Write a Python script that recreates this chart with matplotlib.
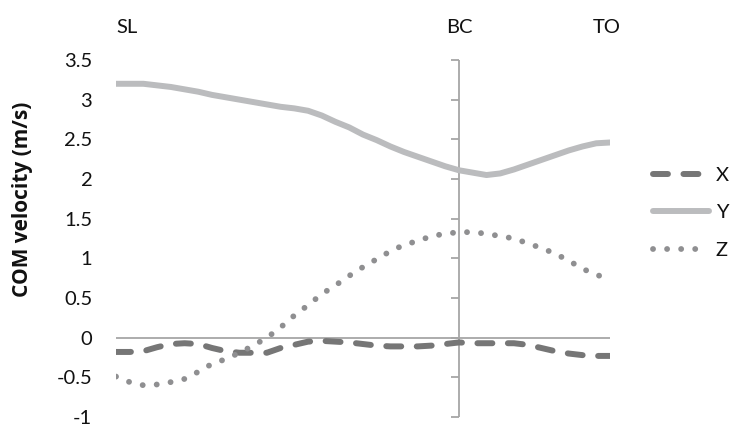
import numpy as np
import matplotlib.pyplot as plt
from matplotlib.transforms import blended_transform_factory

# frames 0..36, ground contact (BC) at frame 25
frames = np.arange(37)
bc_frame = 25

com_x = [-0.18, -0.18, -0.17, -0.12, -0.08, -0.07, -0.08, -0.13, -0.17, -0.19,
         -0.19, -0.19, -0.13, -0.09, -0.05, -0.04, -0.05, -0.06, -0.08, -0.10,
         -0.11, -0.11, -0.11, -0.10, -0.08, -0.06, -0.07, -0.07, -0.07, -0.07,
         -0.09, -0.13, -0.17, -0.20, -0.22, -0.23, -0.23]
com_y = [3.20, 3.20, 3.20, 3.18, 3.16, 3.13, 3.10, 3.06, 3.03, 3.00,
         2.97, 2.94, 2.91, 2.89, 2.86, 2.80, 2.72, 2.65, 2.56, 2.49,
         2.41, 2.34, 2.28, 2.22, 2.16, 2.11, 2.08, 2.05, 2.07, 2.12,
         2.18, 2.24, 2.30, 2.36, 2.41, 2.45, 2.46]
com_z = [-0.49, -0.56, -0.60, -0.59, -0.56, -0.52, -0.43, -0.33, -0.27, -0.19,
         -0.10, 0.00, 0.13, 0.28, 0.41, 0.55, 0.66, 0.78, 0.89, 0.99,
         1.09, 1.17, 1.22, 1.28, 1.31, 1.33, 1.33, 1.31, 1.28, 1.25,
         1.19, 1.13, 1.06, 0.97, 0.87, 0.79, 0.75]

events = ["SL", "BC", "TO"]
event_pos = [0.8, 25, 35.8]
yticks = np.arange(-1, 3.51, 0.5)

plt.rcParams["font.family"] = ["Lato", "DejaVu Sans"]
fs = 14.5
txt_col = "#111111"

fig = plt.figure(figsize=(7.34, 4.30), dpi=100)
ax = fig.add_axes([0.158, 0.0302, 0.673, 0.8303])

axis_col = "#a6a6a6"
ax.axhline(0, color=axis_col, lw=1.3, zorder=1)
ax.axvline(bc_frame, color=axis_col, lw=1.3, zorder=1)

ax.plot(frames, com_x, color="#767676", lw=4.3, linestyle=(0, (2.5, 2.6)),
        dash_capstyle="round", label="X", zorder=3)
ax.plot(frames, com_y, color="#bbbcbe", lw=4.3, solid_capstyle="round",
        label="Y", zorder=3)
ax.plot(frames, com_z, color="#8f8f91", lw=4.2, linestyle=(0, (0.01, 2.4)),
        dash_capstyle="round", label="Z", zorder=3)

ax.set_xlim(0, 36)
ax.set_ylim(-1, 3.5)
ax.set_yticks(yticks)
ax.set_yticklabels([f"{v:g}" for v in yticks])
ax.set_xticks([])
for s in ax.spines.values():
    s.set_visible(False)
ax.tick_params(axis="y", length=0, pad=17, labelsize=fs, labelcolor=txt_col)
ax.set_ylabel("COM velocity (m/s)", fontsize=15, fontweight="bold",
              family=["Open Sans", "DejaVu Sans"], color=txt_col)
ax.yaxis.set_label_coords(-0.168, 0.61)

# tick marks on the vertical axis that crosses at BC
sec = ax.secondary_yaxis(bc_frame / 36)
sec.set_yticks(yticks)
sec.tick_params(axis="y", direction="out", length=6, width=1.3, color=axis_col,
                labelleft=False, labelright=False, left=True, right=False)
for s in sec.spines.values():
    s.set_visible(False)

trans = blended_transform_factory(ax.transData, fig.transFigure)
for name, xp in zip(events, event_pos):
    ax.text(xp, 0.935, name, transform=trans, ha="center", va="center",
            fontsize=fs, color=txt_col)

leg = fig.legend(loc="center left", bbox_to_anchor=(0.89, 0.505), frameon=False,
                 fontsize=fs, handlelength=2.75, handletextpad=0.35,
                 labelspacing=1.0, borderpad=0, borderaxespad=0)
for t in leg.get_texts():
    t.set_color(txt_col)

fig.savefig("out.png", dpi=100)
